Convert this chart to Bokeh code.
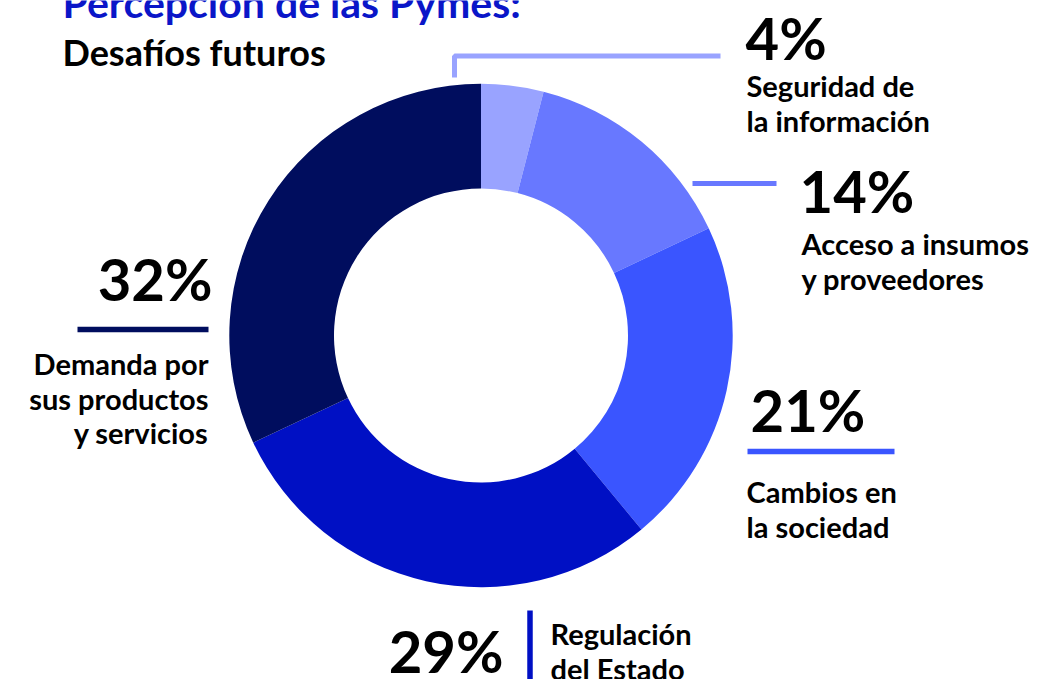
import numpy as np
from bokeh.plotting import figure
from bokeh.models import Range1d
from bokeh.core.properties import value
from bokeh.embed import file_html
from bokeh.resources import INLINE

# ---- data ----
categories = ["Seguridad de la información", "Acceso a insumos y proveedores",
              "Cambios en la sociedad", "Regulación del Estado",
              "Demanda por sus productos y servicios"]
shares = [4, 14, 21, 29, 32]
colors = ["#99a3ff", "#6878ff", "#3a55ff", "#0010c4", "#000d5e"]
label_lines = [["Seguridad de", "la información"],
               ["Acceso a insumos", "y proveedores"],
               ["Cambios en", "la sociedad"],
               ["Regulación", "del Estado"],
               ["Demanda por", "sus productos", "y servicios"]]
title = "Percepción de las Pymes:"
subtitle = "Desafíos futuros"

FONT = value("Lato")
W, H = 1037, 679


def Y(ys):
    # screen-pixel row -> data y (y axis points up)
    return H - ys


p = figure(width=W, height=H, output_backend="svg", toolbar_location=None,
           x_range=Range1d(0, W), y_range=Range1d(0, H),
           min_border=0, outline_line_color=None)
p.axis.visible = False
p.grid.visible = False
p.background_fill_color = "white"
p.border_fill_color = "white"

# ---- donut ----
cx, cy = 480.5, Y(335)
total = float(sum(shares))
cum = np.cumsum([0] + shares) / total
starts = np.pi / 2 - cum[1:] * 2 * np.pi
ends = np.pi / 2 - cum[:-1] * 2 * np.pi
p.annular_wedge(x=cx, y=cy, inner_radius=147, outer_radius=251.7,
                start_angle=starts, end_angle=ends, fill_color=colors,
                line_color=None)

# ---- title ----
p.text(x=[62], y=[Y(2)], text=[title], text_font=FONT, text_font_style="bold",
       text_font_size="41px", text_color="#0a16c8", text_baseline="middle")
p.text(x=[62], y=[Y(51)], text=[subtitle], text_font=FONT, text_font_style="bold",
       text_font_size="36px", text_color="#000000", text_baseline="middle")

BIG = "58px"
SMALL = "29px"
LH = 34.5


def pct(i, x, yc, align="left"):
    p.text(x=[x], y=[Y(yc)], text=[f"{shares[i]}%"], text_font=FONT,
           text_font_style="bold", text_font_size=BIG, text_color="#000000",
           text_align=align, text_baseline="middle")


def lab(i, x, yc, align="left"):
    lines = label_lines[i]
    p.text(x=[x] * len(lines), y=[Y(yc + k * LH) for k in range(len(lines))],
           text=lines, text_font=FONT, text_font_style="bold",
           text_font_size=SMALL, text_color="#000000", text_align=align,
           text_baseline="middle")


# 4%
p.line(x=[454, 454, 720], y=[Y(77), Y(55.5), Y(55.5)], line_color=colors[0],
       line_width=5)
pct(0, 745, 37)
lab(0, 746, 85)

# 14%
p.line(x=[692, 776], y=[Y(183), Y(183)], line_color=colors[1], line_width=5)
pct(1, 799, 190)
lab(1, 801, 243)

# 21%
pct(2, 750, 409)
p.line(x=[747, 894], y=[Y(451), Y(451)], line_color=colors[2], line_width=5.5)
lab(2, 746, 491)

# 29%
pct(3, 503, 649.5, align="right")
p.line(x=[529.5, 529.5], y=[Y(610), Y(690)], line_color=colors[3], line_width=5.5)
lab(3, 550, 633)

# 32%
pct(4, 212, 277.5, align="right")
p.line(x=[77, 208], y=[Y(329), Y(329)], line_color=colors[4], line_width=5.5)
lab(4, 208, 363, align="right")

open("out.html", "w").write(file_html(p, INLINE))
